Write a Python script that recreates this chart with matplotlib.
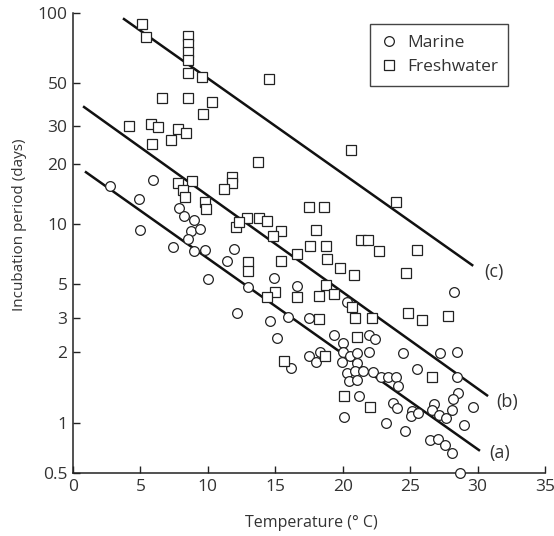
import matplotlib
matplotlib.use("Agg")
import numpy as np
import matplotlib.pyplot as plt

plt.rcParams["font.family"] = ["Open Sans", "DejaVu Sans"]

# Marine species: temperature (°C) and incubation period (days)
marine_t = [2.74, 5.91, 4.89, 4.97, 7.88, 8.21, 8.99, 8.75, 9.41, 8.55, 7.41, 8.97,
            9.81, 11.91, 11.44, 10.01, 12.16, 14.92, 12.97, 16.63, 14.60, 15.96, 17.49,
            20.33, 15.10, 19.37, 19.99, 21.94, 22.41, 17.49, 18.01, 18.31, 20.01, 19.94,
            20.53, 21.03, 21.03, 21.94, 16.16, 20.33, 20.93, 21.52, 22.22, 22.83, 23.33,
            23.94, 20.48, 21.08, 21.22, 20.11, 23.18, 23.74, 24.0, 24.07, 24.48, 27.23,
            28.47, 25.50, 28.47, 28.56, 28.19, 25.11, 25.06, 25.55, 26.78, 26.59, 27.15,
            27.63, 28.10, 29.63, 29.01, 24.61, 26.46, 27.08, 27.58, 28.10, 28.69, 28.27]
marine_d = [15.5, 16.6, 13.35, 9.33, 12.0, 11.0, 10.5, 9.26, 9.44, 8.38, 7.70, 7.35,
            7.38, 7.52, 6.50, 5.31, 3.23, 5.38, 4.80, 4.85, 2.88, 3.05, 3.00,
            3.80, 2.36, 2.44, 2.23, 2.46, 2.34, 1.93, 1.81, 2.00, 2.00, 1.82,
            1.92, 1.99, 1.80, 2.00, 1.71, 1.63, 1.67, 1.66, 1.65, 1.57, 1.57,
            1.57, 1.51, 1.52, 1.30, 1.06, 1.00, 1.22, 1.16, 1.43, 1.99, 1.99,
            2.00, 1.69, 1.57, 1.34, 1.26, 1.12, 1.07, 1.10, 1.20, 1.14, 1.08,
            1.05, 1.14, 1.17, 0.973, 0.899, 0.790, 0.798, 0.737, 0.657, 0.5, 4.45]

# Freshwater species
fresh_t = [5.09, 5.41, 8.50, 8.50, 8.50, 8.50, 8.50, 9.58, 6.60, 8.50, 10.33, 9.64,
           4.15, 5.78, 6.28, 7.76, 8.35, 7.26, 5.88, 14.53, 20.61, 13.74, 7.76, 8.84,
           8.18, 8.32, 9.81, 9.88, 11.79, 11.79, 11.22, 12.08, 23.94, 17.52, 18.63,
           12.88, 12.33, 13.79, 14.40, 15.42, 14.83, 18.04, 17.57, 18.75, 16.58, 15.42,
           18.81, 21.33, 21.85, 22.71, 19.79, 20.83, 13.0, 13.0, 14.95, 14.36, 18.75,
           18.21, 19.37, 16.63, 20.66, 20.90, 22.14, 18.26, 21.03, 15.66, 18.68, 20.11,
           22.04, 25.52, 24.69, 24.86, 25.85, 27.82, 26.63]
fresh_d = [89.4, 79.1, 79.7, 73.6, 68.2, 62.8, 55.4, 53.1, 41.7, 42.0, 40.0, 34.6,
           30.1, 30.6, 29.6, 29.0, 27.8, 25.8, 24.8, 51.9, 23.3, 20.5, 16.0, 16.4,
           14.8, 13.7, 12.85, 11.85, 17.2, 16.0, 15.0, 9.70, 12.85, 12.2, 12.2,
           10.75, 10.2, 10.7, 10.4, 9.26, 8.67, 9.33, 7.75, 7.75, 7.10, 6.54,
           6.70, 8.34, 8.34, 7.35, 6.00, 5.57, 6.45, 5.83, 4.43, 4.13, 4.90,
           4.19, 4.28, 4.13, 3.56, 2.99, 2.99, 2.95, 2.38, 1.84, 1.92, 1.30,
           1.17, 7.43, 5.66, 3.25, 2.93, 3.10, 1.56]

# Fitted lines: end points (temperature, days)
line_names = ["(a)", "(b)", "(c)"]
line_t = [[0.96, 30.1], [0.82, 30.7], [3.78, 29.6]]
line_d = [[18.2, 0.687], [37.6, 1.31], [94.2, 6.22]]
label_t = [30.9, 31.4, 30.5]
label_d = [0.66, 1.23, 5.74]

y_ticks = [0.5, 1, 2, 3, 5, 10, 20, 30, 50, 100]
x_ticks = [0, 5, 10, 15, 20, 25, 30, 35]

# the printed log axis is hand drawn: where each tick sits (fraction of axis height)
tick_frac = [0.0, 0.1087, 0.2630, 0.3370, 0.4109, 0.5413, 0.6717, 0.7543, 0.8478, 1.0]
log_ticks = np.log10(y_ticks)


def fwd(v):
    v = np.clip(np.asarray(v, dtype=float), 1e-6, None)
    return np.interp(np.log10(v), log_ticks, tick_frac, left=-1, right=2)


def inv(f):
    return 10 ** np.interp(np.asarray(f, dtype=float), tick_frac, log_ticks)


fig = plt.figure(figsize=(5.54, 5.36), dpi=100)
ax = fig.add_axes([0.1318, 0.1175, 0.852, 0.8582])
ax.set_yscale("function", functions=(fwd, inv))

ax.plot(marine_t, marine_d, "o", ms=7, mfc="white", mec="#222222", mew=0.9,
        label="Marine", clip_on=False, zorder=3)
ax.plot(fresh_t, fresh_d, "s", ms=6.5, mfc="white", mec="#222222", mew=0.9,
        label="Freshwater", clip_on=False, zorder=3)

for name, t, d, lt, ld in zip(line_names, line_t, line_d, label_t, label_d):
    ax.plot(t, d, "-", color="#111111", lw=1.8, zorder=2)
    ax.text(lt, ld, name, fontsize=13, color="#333333", va="center", ha="left")

ax.set_xlim(0, 35)
ax.set_ylim(0.5, 100)
ax.set_yticks(y_ticks)
ax.set_yticklabels([str(v) for v in y_ticks])
ax.minorticks_off()
ax.set_xticks(x_ticks)

ax.spines["top"].set_visible(False)
ax.spines["right"].set_visible(False)
for s in ["left", "bottom"]:
    ax.spines[s].set_linewidth(1.1)
    ax.spines[s].set_color("#222222")
ax.tick_params(direction="in", length=5, width=1, colors="#222222",
               labelsize=12.5, labelcolor="#333333", pad=4)

ax.set_xlabel("Temperature (° C)", fontsize=11.5, color="#333333", va="center")
ax.xaxis.set_label_coords(0.505, -0.109)
ax.set_ylabel("Incubation period (days)", fontsize=11, color="#333333", va="center")
ax.yaxis.set_label_coords(-0.113, 0.539)

leg = ax.legend(loc="upper right", bbox_to_anchor=(0.922, 0.976), fontsize=12.5,
                frameon=True, fancybox=False, edgecolor="#444444", framealpha=1,
                handletextpad=0.6, borderpad=0.6, labelspacing=0.5, handlelength=0.9,
                borderaxespad=0)
leg.get_frame().set_linewidth(1)
for t in leg.get_texts():
    t.set_color("#333333")

fig.savefig("out.png", dpi=100)
